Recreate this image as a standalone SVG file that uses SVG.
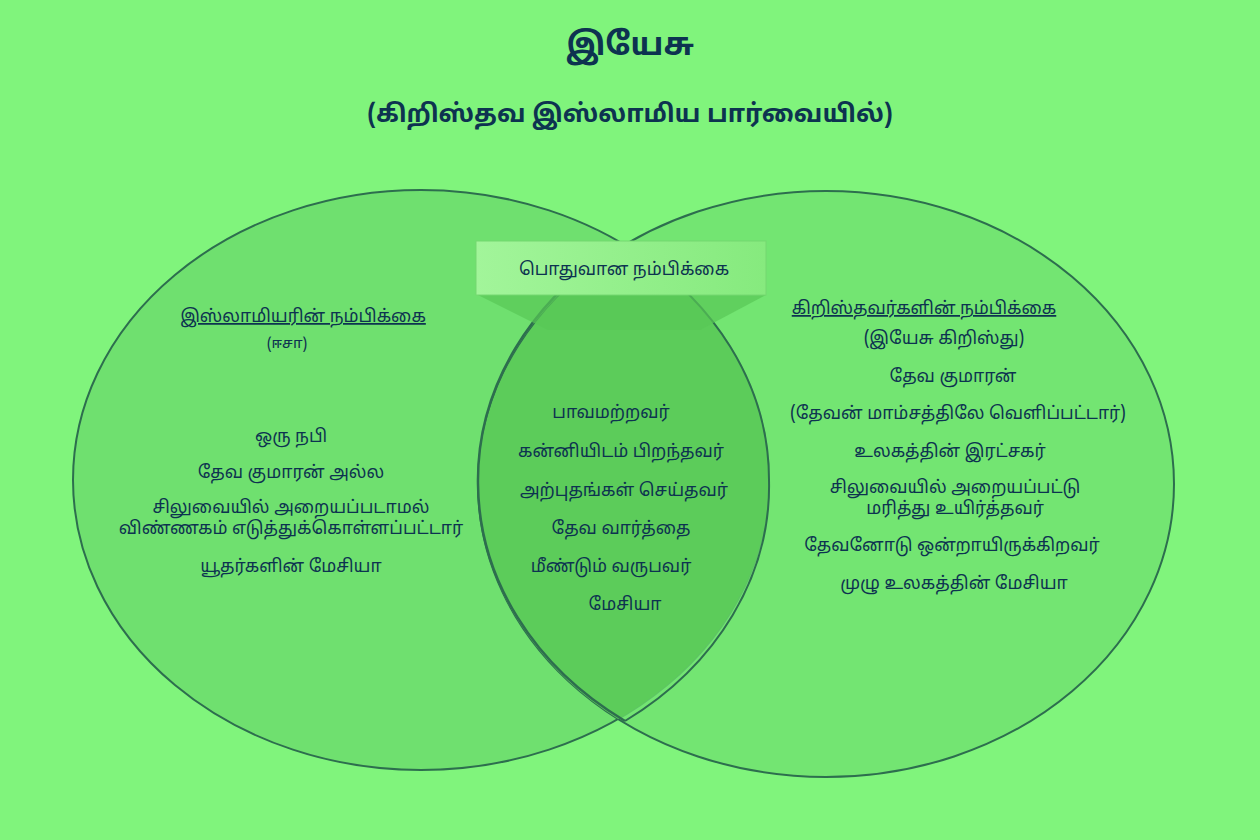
<svg xmlns="http://www.w3.org/2000/svg" width="1260" height="840" viewBox="0 0 1260 840">
<defs>
<style>
.t{font-family:"Noto Sans Tamil","Latha","Lohit Tamil","Noto Sans","DejaVu Sans",sans-serif;fill:#0d3350;text-anchor:middle}
.b{font-size:17.5px}
.h{font-size:17.5px;text-decoration:underline}
.s{font-size:15px}
.ttl{font-size:32px;font-weight:bold}
.sub{font-size:25px;font-weight:bold}
.circ{fill:#6fe06f;stroke:#2d6e4e;stroke-width:2}
</style>
<linearGradient id="boxg" x1="0" y1="0" x2="1" y2="0">
<stop offset="0" stop-color="#a2f59a"/>
<stop offset="1" stop-color="#86ea7e"/>
</linearGradient>
<clipPath id="lc"><ellipse cx="421" cy="480" rx="348" ry="290"/></clipPath>
</defs>
<rect width="1260" height="840" fill="#80f47c"/>
<g id="title">
<text class="t ttl" x="630" y="55">இயேசு</text>
<text class="t sub" x="630" y="122">(கிறிஸ்தவ இஸ்லாமிய பார்வையில்)</text>
</g>
<g id="left-circle">
<ellipse class="circ" cx="421" cy="480" rx="348" ry="290"/>
</g>
<g id="right-circle">
<ellipse class="circ" cx="826" cy="484" rx="348" ry="293" fill-opacity="0.75"/>
</g>
<g id="lens">
<ellipse cx="826" cy="484" rx="348" ry="293" fill="#5ccc5a" clip-path="url(#lc)"/>
<path d="M622,243 A348,290 0 0 1 769,480 A348,290 0 0 1 625,721" fill="none" stroke="#2d6e4e" stroke-width="2"/>
<path d="M622,243 A348,293 0 0 0 478,484 A348,293 0 0 0 625,721" fill="none" stroke="#2d6e4e" stroke-width="2.5"/>
</g>
<g id="common-label">
<path d="M478,295 L766,295 L700,330 L548,330 Z" fill="#58c856" opacity="0.7"/>
<rect x="476" y="241" width="290" height="54" fill="url(#boxg)" stroke="#74d870" stroke-width="1"/>
<text class="t b" x="624" y="275">பொதுவான நம்பிக்கை</text>
</g>
<g id="left-text">
<text class="t h" x="303" y="322">இஸ்லாமியரின் நம்பிக்கை</text>
<text class="t s" x="287" y="348">(ஈசா)</text>
<text class="t b" x="291" y="442">ஒரு நபி</text>
<text class="t b" x="291" y="478">தேவ குமாரன் அல்ல</text>
<text class="t b" x="291" y="513">சிலுவையில் அறையப்படாமல்</text>
<text class="t b" x="291" y="534">விண்ணகம் எடுத்துக்கொள்ளப்பட்டார்</text>
<text class="t b" x="291" y="572">யூதர்களின் மேசியா</text>
</g>
<g id="center-text">
<text class="t b" x="611" y="418">பாவமற்றவர்</text>
<text class="t b" x="621" y="457">கன்னியிடம் பிறந்தவர்</text>
<text class="t b" x="624" y="496">அற்புதங்கள் செய்தவர்</text>
<text class="t b" x="621" y="534">தேவ வார்த்தை</text>
<text class="t b" x="611" y="572">மீண்டும் வருபவர்</text>
<text class="t b" x="625" y="610">மேசியா</text>
</g>
<g id="right-text">
<text class="t h" x="924" y="314">கிறிஸ்தவர்களின் நம்பிக்கை</text>
<text class="t b" x="944" y="344">(இயேசு கிறிஸ்து)</text>
<text class="t b" x="953" y="382">தேவ குமாரன்</text>
<text class="t b" x="958" y="419">(தேவன் மாம்சத்திலே வெளிப்பட்டார்)</text>
<text class="t b" x="950" y="457">உலகத்தின் இரட்சகர்</text>
<text class="t b" x="955" y="493">சிலுவையில் அறையப்பட்டு</text>
<text class="t b" x="955" y="514">மரித்து உயிர்த்தவர்</text>
<text class="t b" x="952" y="551">தேவனோடு ஒன்றாயிருக்கிறவர்</text>
<text class="t b" x="954" y="589">முழு உலகத்தின் மேசியா</text>
</g>
</svg>
